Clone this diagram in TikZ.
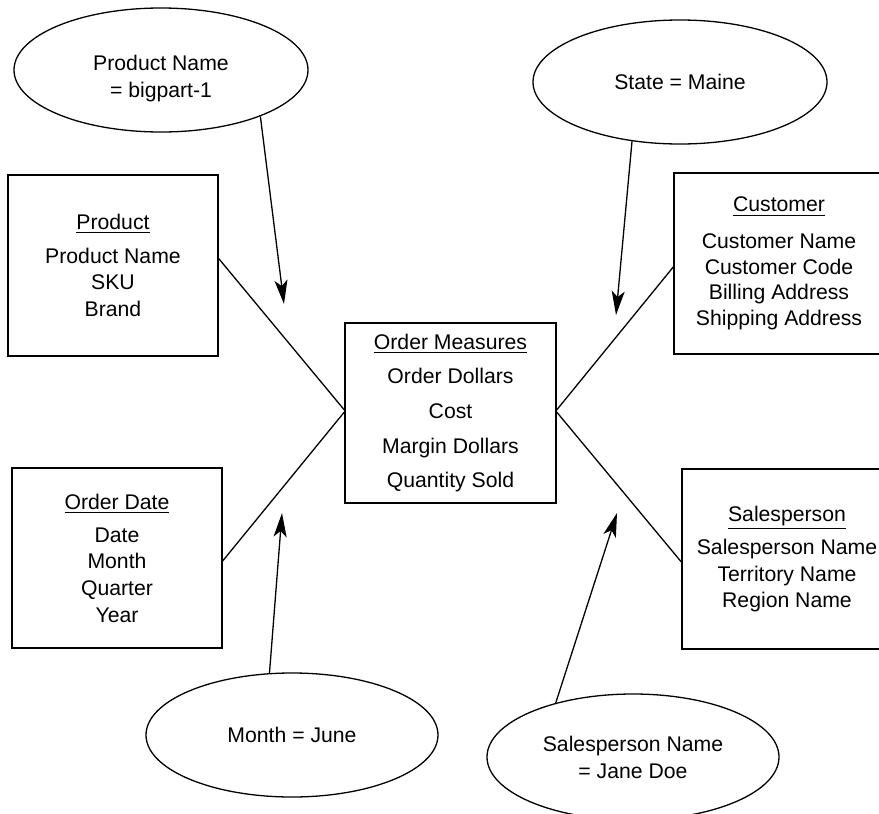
\documentclass[tikz,border=0pt]{standalone}
\usepackage{fontspec}
\setmainfont{Liberation Sans}
\usetikzlibrary{shapes.geometric,arrows.meta}
\begin{document}
\begin{tikzpicture}[x=0.5pt,y=-0.5pt,
  every node/.style={font=\fontsize{10.6pt}{13.3pt}\selectfont, text=black},
  dimbox/.style={draw, line width=0.65pt, minimum width=105pt, minimum height=90.5pt, inner sep=0pt, align=center},
  factbox/.style={draw, line width=0.65pt, minimum width=105.5pt, minimum height=90pt, inner sep=0pt, align=center, font=\fontsize{10.6pt}{17.3pt}\selectfont},
  filt/.style={draw, ellipse, line width=0.65pt, minimum width=147pt, minimum height=62pt, inner sep=0pt, align=center, font=\fontsize{10.6pt}{13.5pt}\selectfont},
  link/.style={line width=0.65pt},
  filtarrow/.style={line width=0.65pt, -{Stealth[length=12pt,width=6.5pt,inset=3pt]}}]
\useasboundingbox (0,0) rectangle (879,814);
\clip (0,0) rectangle (879,814);

% filter ellipses
\node[filt] (pn) at (161,70) {\raisebox{-6.9pt}[0pt][0pt]{\begin{tabular}{@{}c@{}}Product Name\\[0.2pt]= bigpart-1\end{tabular}}};
\node[filt] (st) at (680,82) {State = Maine};
\node[filt, minimum width=146pt] (mo) at (292,735) {Month = June};
\node[filt, minimum width=146pt, minimum height=63pt] (jd) at (633,757) {Salesperson Name\\= Jane Doe};

% boxes
\node[dimbox] (prod) at (113,265.5) {\underline{Product}\\[3.3pt]Product Name\\SKU\\Brand};
\node[dimbox, minimum height=90pt] (od) at (117,558) {\underline{Order Date}\\[3.3pt]Date\\Month\\Quarter\\Year};
\node[factbox] (om) at (450.5,413) {\underline{Order Measures}\\Order Dollars\\Cost\\Margin Dollars\\Quantity Sold};
\node[dimbox, font=\fontsize{10.6pt}{12.8pt}\selectfont] (cu) at (779,263.5) {\underline{Customer}\\[5.6pt]Customer Name\\Customer Code\\Billing Address\\Shipping Address};
\node[dimbox, minimum height=90pt] (sp) at (787,559) {\underline{Salesperson}\\[3.3pt]Salesperson Name\\Territory Name\\Region Name};

% links
\draw[link] ([yshift=3.5pt]prod.east) -- ([yshift=1.5pt]om.west);
\draw[link] ([yshift=-1.5pt]od.east) -- ([yshift=0.5pt]om.west);
\draw[link] ([yshift=-1.7pt]cu.west) -- ([yshift=1.5pt]om.east);
\draw[link] ([yshift=-1.5pt]sp.west) -- ([yshift=0.5pt]om.east);

% filter arrows
\coordinate (t1) at (284,304);
\coordinate (t2) at (616,315);
\coordinate (t3) at (282,513);
\coordinate (t4) at (617,513);
\draw[filtarrow] (pn.-25) -- (t1);
\draw[filtarrow] (st.231) -- (t2);
\draw[filtarrow] (mo.110) -- (t3);
\draw[filtarrow] (jd.145) -- (t4);
\end{tikzpicture}
\end{document}
